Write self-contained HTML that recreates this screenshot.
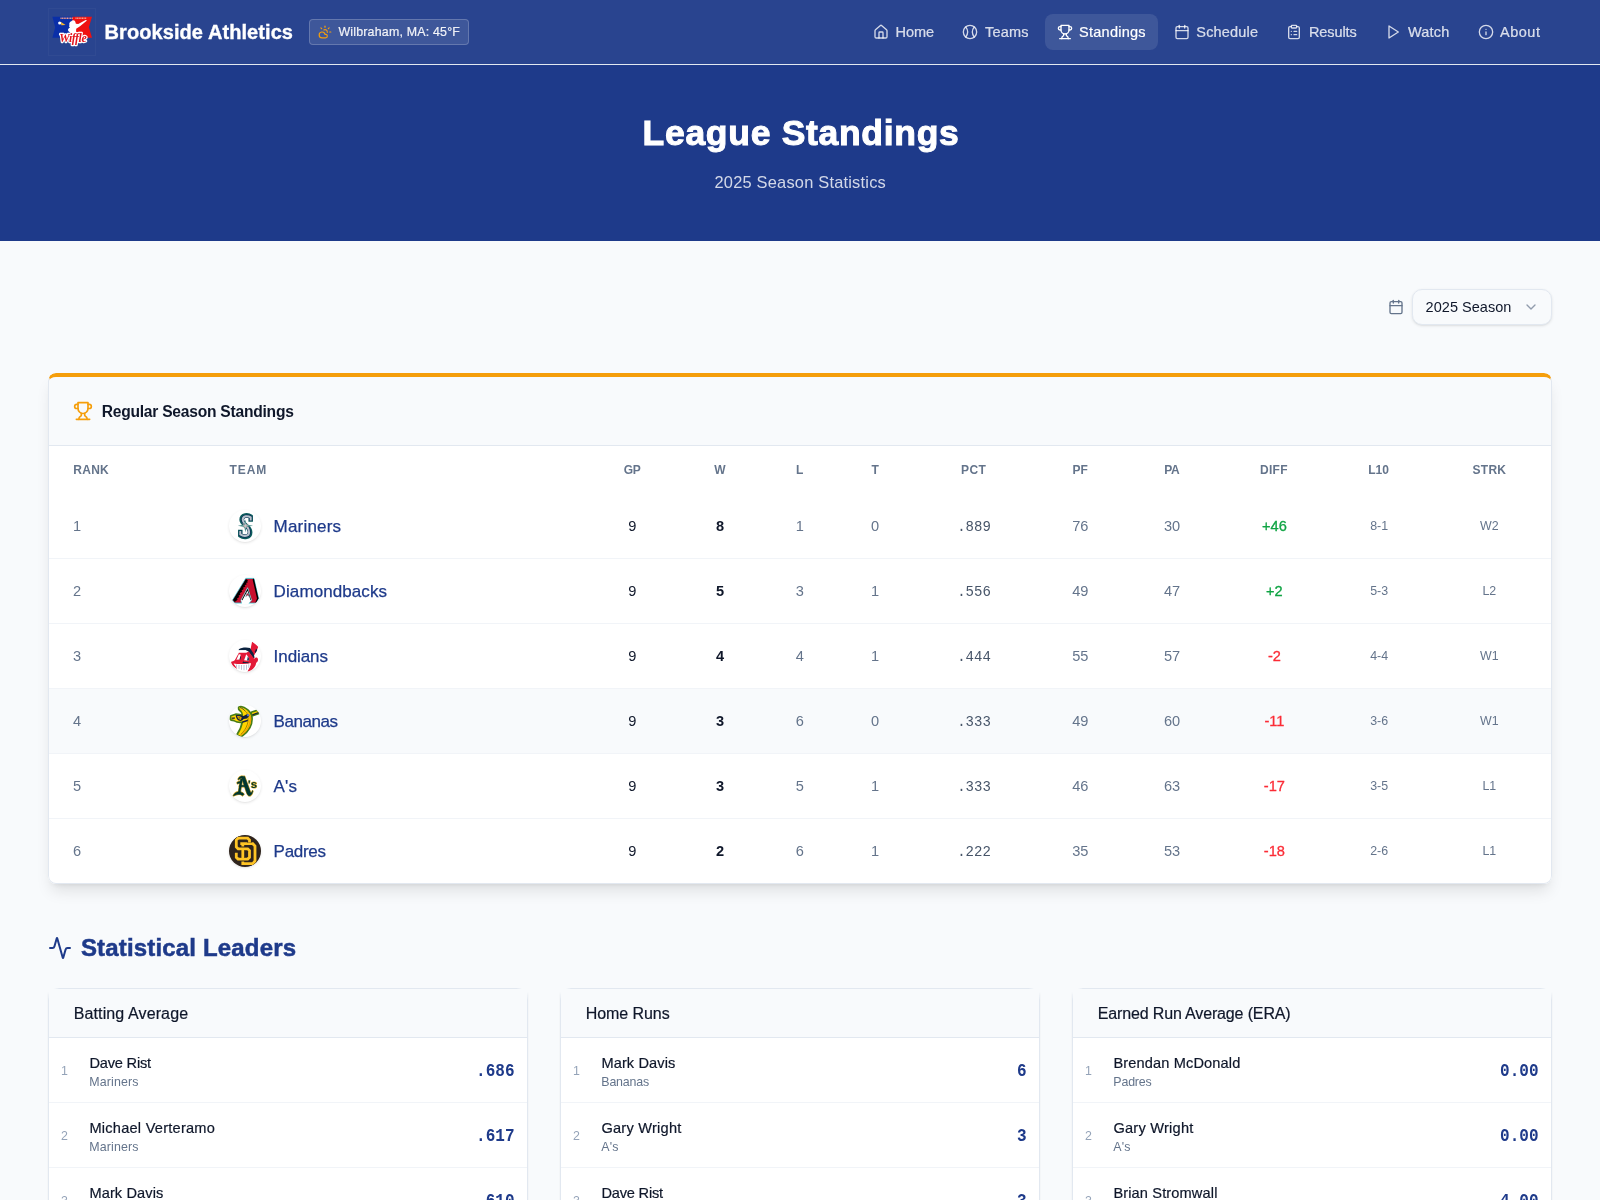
<!DOCTYPE html>
<html lang="en">
<head>
<meta charset="utf-8">
<title>League Standings - Brookside Athletics</title>
<style>
*{box-sizing:border-box;margin:0;padding:0}
html,body{width:1600px;height:1200px;overflow:hidden}
body{background:#f8fafc;font-family:"Liberation Sans",sans-serif;color:#0f172a;position:relative}
#root{position:absolute;left:0;top:0;width:1600px;height:1200px;will-change:transform}
svg{display:block}
.ico{fill:none;stroke:currentColor;stroke-width:2;stroke-linecap:round;stroke-linejoin:round}
/* NAV */
#nav{position:absolute;left:0;top:0;width:1600px;height:65px;background:#29448f;border-bottom:1px solid #e2e8f0}
#logo{position:absolute;left:48px;top:8px;width:48px;height:48px;border:1px solid rgba(255,255,255,.035)}
#brand{position:absolute;top:19px;font-size:20px;font-weight:700;color:#fff;line-height:26px;white-space:nowrap;-webkit-text-stroke:.35px #fff}
#wx{position:absolute;left:309px;top:19px;width:160px;height:26px;border-radius:4px;background:rgba(255,255,255,.1);border:1px solid rgba(255,255,255,.2);color:rgba(255,255,255,.9);font-size:12.4px;line-height:24px;white-space:nowrap}
#wx svg{position:absolute;left:8px;top:5px;color:#f59e0b}
#wx span{position:absolute;top:0;margin-left:-1px;-webkit-text-stroke:.2px currentColor}
.ni{position:absolute;top:14px;height:36px;border-radius:8px;color:rgba(255,255,255,.8);font-size:14.5px;line-height:36px;white-space:nowrap}
.ni svg{position:absolute;left:12px;top:10px}
.ni span{position:absolute;top:0;-webkit-text-stroke:.2px currentColor}
.ni.on{background:rgba(255,255,255,.1);color:#fff}
/* HERO */
#hero{position:absolute;left:0;top:65px;width:1600px;height:176px;background:#1e3a8a;color:#fff;text-align:center}
#hero h1{position:absolute;top:46px;font-size:35.5px;line-height:44px;font-weight:700;white-space:nowrap;text-align:left;-webkit-text-stroke:1px #fff}
#hero p{position:absolute;top:105px;font-size:16.4px;line-height:24px;color:rgba(255,255,255,.8);white-space:nowrap;text-align:left}
/* SELECT */
#selcal{position:absolute;left:1388px;top:299px;color:#64748b}
#sel{position:absolute;left:1412px;top:289px;width:140px;height:36px;border:1px solid #e2e8f0;border-radius:10px;background:#f8fafc;box-shadow:0 1px 3px rgba(0,0,0,.1),0 1px 2px -1px rgba(0,0,0,.1);font-size:14.5px;line-height:34px;color:#0f172a}
#sel span{position:absolute;top:0;white-space:nowrap;margin-left:-1px}
#sel svg{position:absolute;left:110px;top:9px;color:#64748b;opacity:.7}
/* CARD */
#card{position:absolute;left:48px;top:373px;width:1504px;height:511px;border-radius:8px;background:#fff;box-shadow:0 10px 15px -3px rgba(0,0,0,.1),0 4px 6px -4px rgba(0,0,0,.1);overflow:hidden}
#cbord{position:absolute;left:0;top:0;width:1504px;height:511px;border:1px solid #e2e8f0;border-top:4px solid #f59e0b;border-radius:8px;pointer-events:none}
#chead{position:absolute;left:0;top:0;width:1504px;height:73px;background:#f8fafc;border-bottom:1px solid #e2e8f0}
#chead svg{position:absolute;left:25px;top:28px;color:#f59e0b}
#chead span{position:absolute;top:27px;font-size:15.6px;font-weight:700;line-height:24px;white-space:nowrap;color:#0f172a}
.th{position:absolute;top:88.500px;font-size:12px;line-height:16px;font-weight:700;color:#64748b;white-space:nowrap}
.c{width:80px;text-align:center}
.tr{position:absolute;left:1px;width:1502px;height:65px;border-bottom:1px solid #f1f4f8}
.tr.hov{background:#f8fafc}
.tr>*{position:absolute}
.td{top:22px;font-size:14.6px;line-height:20px;white-space:nowrap;color:#64748b}
.tlogo{top:16px;width:32px;height:32px;border-radius:50%;background:#fff;box-shadow:0 1px 3px rgba(0,0,0,.1),0 1px 2px -1px rgba(0,0,0,.1);overflow:hidden}
.tname{top:21px;font-size:17px;line-height:24px;color:#1e3a8a;white-space:nowrap;-webkit-text-stroke:.25px #1e3a8a}
.gp{color:#0f172a}
.w{color:#0f172a;font-weight:700}
.pct{font-family:"Liberation Mono",monospace;font-size:14px;color:#475569;margin-top:1px}
.pos{color:#10a444;-webkit-text-stroke:.3px #10a444}
.neg{color:#fb2c36;-webkit-text-stroke:.3px #fb2c36}
.s{font-size:12.4px}
/* H2 */
#h2{position:absolute;left:48px;top:932px;height:32px;color:#1e3a8a}
#h2 svg{position:absolute;left:0;top:4px}
#h2 span{position:absolute;top:0;font-size:24px;font-weight:700;line-height:32px;white-space:nowrap;-webkit-text-stroke:.5px #1e3a8a}
/* LEADERS */
.lcard{position:absolute;top:988px;width:480px;height:260px}
.ltop{position:absolute;left:6px;top:0;width:468px;height:1px;background:linear-gradient(to right,rgba(226,232,240,0),#e2e8f0 5px,#e2e8f0 463px,rgba(226,232,240,0))}
.lbody{position:absolute;left:0;top:4px;width:480px;height:256px;padding:0 1px;background:linear-gradient(to bottom,rgba(226,232,240,0),#e2e8f0 8px) left top/1px 100% no-repeat,linear-gradient(to bottom,rgba(226,232,240,0),#e2e8f0 8px) right top/1px 100% no-repeat;box-shadow:0 1px 2px rgba(0,0,0,.05)}
.lin{position:absolute;left:1px;top:0;width:478px;height:256px;background:#fff}
.lhead{position:absolute;left:0;top:-3px;width:478px;height:49px;background:#f8fafc;border-bottom:1px solid #e2e8f0;font-size:16px;line-height:20px;color:#0f172a;white-space:nowrap}
.lhead span{position:absolute;top:15px;-webkit-text-stroke:.2px #0f172a;margin-left:-1px}
.lrow{position:absolute;left:0;width:478px;height:65px;border-bottom:1px solid #f1f4f8}
.lrow>*{position:absolute;white-space:nowrap}
.lrk{left:12px;top:25px;font-size:12.4px;line-height:16px;color:#94a3b8}
.lname{top:15px;margin-left:-1px;-webkit-text-stroke:.2px #0f172a;font-size:14.6px;line-height:20px;color:#0f172a}
.lteam{top:36px;margin-left:-1px;font-size:12.4px;line-height:16px;color:#64748b}
.lval{right:12.500px;top:23.500px;transform:scaleY(1.1);transform-origin:50% 60%;font-family:"Liberation Mono",monospace;font-weight:700;font-size:16px;line-height:20px;color:#1e3a8a}

</style>
</head>
<body>
<div id="root">
<div id="nav">
  <div id="logo"><svg width="46" height="46" viewBox="1 1 46 46"><polygon points="4.400,8.800 27,8.800 24,29.800 4.400,29.800 7.200,19.300" fill="#0a2fa8"/><polygon points="24.500,8.800 44,8.800 40.900,19.300 44,29.800 23,29.800" fill="#ee1111"/><path d="M23.300,13.200c1.100,-1.200 3.200,-1.100 3.900,.3l.7,2.200 2.300,.3 7.500,-4c.7,-.4 1.300,.4 .7,.9l-6.400,5.400 -3.800,2.400 -.5,9h-4.600l.5,-5.500c-1.600,.2 -3.100,-.5 -3.500,-1.800 -.4,-1.400 .7,-2.400 1.900,-2.700 -.9,-.7 -1.200,-1.800 -.5,-2.700 -.9,-1.300 .4,-3.300 1.800,-3.800z" fill="#fff"/><path d="M12.500,10.300h12.500M27.500,10.300h11" stroke="#f4a08c" stroke-width="1.400" stroke-dasharray="1.100 .5" fill="none"/><circle cx="11.700" cy="15" r="1.600" fill="#fff"/><path d="M13,13.900l4.600,3.200 -4.300,.2z" fill="#f5b82e"/><text x="24.800" y="33.800" text-anchor="middle" font-family="Liberation Serif" font-style="italic" font-weight="700" font-size="11.800" letter-spacing="-.4" fill="#e3141d" stroke="#fff" stroke-width="2.300" stroke-linejoin="round" paint-order="stroke">Wiffle</text></svg>
</div>
  <div id="brand" style="left:104.60px;letter-spacing:0.072px">Brookside Athletics</div>
  <div id="wx"><svg class="ico" width="14" height="14" viewBox="0 0 24 24" ><path d="M12 2v2"/><path d="m4.930 4.930 1.410 1.410"/><path d="M20 12h2"/><path d="m19.070 4.930-1.410 1.410"/><path d="M15.947 12.650a4 4 0 0 0-5.925-4.128"/><path d="M13 22H7a5 5 0 1 1 4.900-6H13a3 3 0 0 1 0 6Z"/></svg><span style="left:29.40px;letter-spacing:0.200px">Wilbraham, MA: 45°F</span></div>
  <div class="ni" style="left:861px;width:85px"><svg class="ico" width="16" height="16" viewBox="0 0 24 24" ><path d="M15 21v-8a1 1 0 0 0-1-1h-4a1 1 0 0 0-1 1v8"/><path d="M3 10a2 2 0 0 1 .709-1.528l7-5.999a2 2 0 0 1 2.582 0l7 5.999A2 2 0 0 1 21 10v9a2 2 0 0 1-2 2H5a2 2 0 0 1-2-2z"/></svg><span style="left:34.60px;letter-spacing:-0.100px">Home</span></div><div class="ni" style="left:950px;width:91px"><svg class="ico" width="16" height="16" viewBox="0 0 24 24" ><circle cx="12" cy="12" r="10"/><path d="M5.600 4.400Q11.400 12 5.600 19.600"/><path d="M18.400 4.400Q12.600 12 18.400 19.600"/></svg><span style="left:35.00px;letter-spacing:0.225px">Teams</span></div><div class="ni on" style="left:1045px;width:113px"><svg class="ico" width="16" height="16" viewBox="0 0 24 24" ><path d="M6 9H4.5a2.5 2.5 0 0 1 0-5H6"/><path d="M18 9h1.500a2.5 2.5 0 0 0 0-5H18"/><path d="M4 22h16"/><path d="M10 14.66V17c0 .55-.47.98-.97 1.210C7.850 18.750 7 20.240 7 22"/><path d="M14 14.660V17c0 .55.47.98.97 1.210C16.150 18.750 17 20.240 17 22"/><path d="M18 2H6v7a6 6 0 0 0 12 0V2Z"/></svg><span style="left:34.00px;letter-spacing:0.262px">Standings</span></div><div class="ni" style="left:1162px;width:108px"><svg class="ico" width="16" height="16" viewBox="0 0 24 24" ><path d="M8 2v4"/><path d="M16 2v4"/><rect width="18" height="18" x="3" y="4" rx="2"/><path d="M3 10h18"/></svg><span style="left:34.30px;letter-spacing:0.171px">Schedule</span></div><div class="ni" style="left:1274px;width:95px"><svg class="ico" width="16" height="16" viewBox="0 0 24 24" ><rect width="8" height="4" x="8" y="2" rx="1" ry="1"/><path d="M16 4h2a2 2 0 0 1 2 2v14a2 2 0 0 1-2 2H6a2 2 0 0 1-2-2V6a2 2 0 0 1 2-2h2"/><path d="M12 11h4"/><path d="M12 16h4"/><path d="M8 11h.01"/><path d="M8 16h.01"/></svg><span style="left:35.00px;letter-spacing:-0.100px">Results</span></div><div class="ni" style="left:1373px;width:88px"><svg class="ico" width="16" height="16" viewBox="0 0 24 24" ><polygon points="6 3 20 12 6 21 6 3"/></svg><span style="left:35.00px;letter-spacing:0.175px">Watch</span></div><div class="ni" style="left:1466px;width:86px"><svg class="ico" width="16" height="16" viewBox="0 0 24 24" ><circle cx="12" cy="12" r="10"/><path d="M12 16v-4"/><path d="M12 8h.01"/></svg><span style="left:34.00px;letter-spacing:0.525px">About</span></div>
</div>
<div id="hero"><h1 style="left:642.60px;letter-spacing:0.700px">League Standings</h1><p style="left:714.50px;letter-spacing:0.214px">2025 Season Statistics</p></div>
<div id="selcal"><svg class="ico" width="16" height="16" viewBox="0 0 24 24" ><path d="M8 2v4"/><path d="M16 2v4"/><rect width="18" height="18" x="3" y="4" rx="2"/><path d="M3 10h18"/></svg></div>
<div id="sel"><span style="left:13.60px;letter-spacing:0.030px">2025 Season</span><svg class="ico" width="16" height="16" viewBox="0 0 24 24" ><path d="m6 9 6 6 6-6"/></svg></div>
<div id="card">
  <div id="chead"><svg class="ico" width="20" height="20" viewBox="0 0 24 24" ><path d="M6 9H4.5a2.5 2.5 0 0 1 0-5H6"/><path d="M18 9h1.500a2.5 2.5 0 0 0 0-5H18"/><path d="M4 22h16"/><path d="M10 14.66V17c0 .55-.47.98-.97 1.210C7.850 18.750 7 20.240 7 22"/><path d="M14 14.660V17c0 .55.47.98.97 1.210C16.150 18.750 17 20.240 17 22"/><path d="M18 2H6v7a6 6 0 0 0 12 0V2Z"/></svg><span style="left:53.70px;letter-spacing:-0.235px">Regular Season Standings</span></div>
  <div class="th" style="left:25.30px;letter-spacing:0.267px">RANK</div><div class="th" style="left:181.50px;letter-spacing:0.933px">TEAM</div><div class="th" style="left:575.80px;letter-spacing:-0.300px">GP</div><div class="th" style="left:666.25px;letter-spacing:-0.300px">W</div><div class="th" style="left:748.10px;letter-spacing:-0.700px">L</div><div class="th" style="left:823.50px;letter-spacing:-0.300px">T</div><div class="th" style="left:912.90px;letter-spacing:0.500px">PCT</div><div class="th" style="left:1024.45px;letter-spacing:0.000px">PF</div><div class="th" style="left:1116.20px;letter-spacing:-0.200px">PA</div><div class="th" style="left:1212.00px;letter-spacing:0.300px">DIFF</div><div class="th" style="left:1320.20px;letter-spacing:0.050px">L10</div><div class="th" style="left:1424.55px;letter-spacing:0.267px">STRK</div>
  <div class="tr" style="top:121px"><div class="td rk" style="left:24px">1</div><div class="tlogo" style="left:180px"><svg width="32" height="32" viewBox="0 0 32 32"><g fill="none" stroke-linecap="butt" stroke-linejoin="miter"><path d="M21.700,11.800V6.600C19.200,4.600 12.600,4.200 12.600,9.800C12.600,14.700 21.200,16 21.200,22.200C21.200,27.600 14.800,28 11.300,25.400V19.800" stroke="#0c5c5c" stroke-width="4.500"/><path d="M21.700,10.800V7.200C19.200,5.600 13.500,5.200 13.500,9.800C13.500,14 20.300,15.800 20.300,22.200C20.300,26.800 14.800,27 11.300,24.600V20.800" stroke="#0c2c56" stroke-width="3.100"/><path d="M21.700,10.600V7.400C19.200,5.800 13.700,5.400 13.700,9.800C13.700,13.800 20.100,15.800 20.100,22.200C20.100,26.600 14.800,26.800 11.300,24.400V21" stroke="#b8c4cc" stroke-width="2"/></g><path d="M16.400,9.500l1.100,5 6.500,1.300 -6.500,1.300 -1.100,5.400 -1.100,-5.400 -6.500,-1.300 6.500,-1.300z" fill="#4f8f8b"/><path d="M16.400,12.800l.6,2.400 2.600,.6 -2.600,.6 -.6,2.400 -.6,-2.400 -2.600,-.6 2.600,-.6z" fill="#c4ced4"/><path d="M13.600,13.600l5.600,4.400M19.200,13.600l-5.600,4.400" stroke="#e4b4b4" stroke-width=".6"/></svg>
</div><div class="tname" style="left:224.60px;letter-spacing:0.186px">Mariners</div><div class="td c gp" style="left:543.3px">9</div><div class="td c w" style="left:631.0px">8</div><div class="td c m" style="left:710.7px">1</div><div class="td c m" style="left:786.0px">0</div><div class="td c pct" style="left:885.0px">.889</div><div class="td c m" style="left:991.3px">76</div><div class="td c m" style="left:1083.0px">30</div><div class="td c pos" style="left:1185.4px">+46</div><div class="td c s" style="left:1290.2px">8-1</div><div class="td c s" style="left:1400.3px">W2</div></div><div class="tr" style="top:186px"><div class="td rk" style="left:24px">2</div><div class="tlogo" style="left:180px"><svg width="32" height="32" viewBox="0 0 32 32"><path d="M16.800,3.400H24.900L29.600,23.500 27.100,28H19.600L21.900,25 18.600,13.300 13.500,25 12.900,28H5.600L3.500,25.200z" fill="#c8102e" stroke="#3ec1cd" stroke-width=".9" stroke-linejoin="round"/><path d="M24.300,4.200L28.800,23.400 26.800,27.300H20.600L22.800,25 26,25 21,4.200z" fill="#c8102e"/><path d="M24.900,3.600L29.500,23.500 27.100,27.800 26.400,27.300 28,23.600 23.600,4.400z" fill="#000"/><path d="M16.900,3.900L19,5.300 18,6.400 19.400,7 17,8 17.800,9.300 15.600,10.200 16.400,11.500 14,12.800 14.700,14 12.500,15.400 13.300,16.500 10.800,18.200 11.500,19.400 9.400,20.800 10.300,22 8,23.600 8.500,24.700 5.800,27 4,25.100z" fill="#000"/><path d="M11.800,25.300L18.600,12.500 22.700,25.300 19.600,28.800H12.900z" fill="#fff" stroke="#3ec1cd" stroke-width=".5"/><path d="M12.700,28.900H19.700" stroke="#fff" stroke-width="1.600"/><path d="M18.600,13.400L22.100,25 21.500,25.200 18.500,15.800 13.400,25.300 12.600,25.100z" fill="#000"/><path d="M17.800,18.300l1.700,.1 .9,3.400 -1.700,-1.500 -2.100,1.500z" fill="#c8102e" stroke="#3ec1cd" stroke-width=".4"/></svg>
</div><div class="tname" style="left:224.60px;letter-spacing:0.091px">Diamondbacks</div><div class="td c gp" style="left:543.3px">9</div><div class="td c w" style="left:631.0px">5</div><div class="td c m" style="left:710.7px">3</div><div class="td c m" style="left:786.0px">1</div><div class="td c pct" style="left:885.0px">.556</div><div class="td c m" style="left:991.3px">49</div><div class="td c m" style="left:1083.0px">47</div><div class="td c pos" style="left:1185.4px">+2</div><div class="td c s" style="left:1290.2px">5-3</div><div class="td c s" style="left:1400.3px">L2</div></div><div class="tr" style="top:251px"><div class="td rk" style="left:24px">3</div><div class="tlogo" style="left:180px"><svg width="32" height="32" viewBox="0 0 32 32"><path d="M23.100,1.600L29.400,6.600 27.800,10.500 24.600,16.400 21.500,9.500z" fill="#e31937"/><path d="M27.300,8.500l.9,1.500 -1.600,3 -1,-1.200z" fill="#0c2340"/><path d="M9.800,9.200c2.200,-1.800 8,-2.300 11.200,-1.200l3.600,5.500 1,4.200 -2.500,.8 -5.800,-8.200H9.800z" fill="#0c2340"/><path d="M10.300,10.300h7l-1,2.800h-6.200z" fill="#fff"/><path d="M18.800,10.800l6.200,8.600 -1.300,.6 -6.200,-8.200z" fill="#fff"/><path d="M9.900,12.800h7.300l2.500,-1.300 5.500,7.300c1.400,-2 3.500,-1.800 3.800,.2 .3,1.800 -.6,3.300 -1.800,3.700 -.3,3.600 -3.300,7.300 -8.700,9.100l3.100,-7.600H5.300l2.900,4.700C5,27.300 2.600,24.700 2,21.900c1.300,-.3 2.800,-.9 3.900,-1.900z" fill="#e31937"/><path d="M9.800,14.200l1.900,.2 -1,5 -3.300,.4z" fill="#fff"/><path d="M11.200,16.500l.8,.1 -.5,2.800 -1,.1z" fill="#0c2340"/><path d="M17.300,14.200l2.300,3.300 .3,3.200 -4.800,-.4z" fill="#fff"/><path d="M18.800,16.500l1,1.400 .1,2.700 -1.800,-.2z" fill="#0c2340"/><path d="M4.600,23.400c5,.9 12,.7 17.300,-.4 -.3,3.700 -1.800,6.500 -4.400,7.800 -4.300,.5 -9.700,-2.400 -12.900,-7.400z" fill="#fff"/><path d="M7.500,24.500v3M10,24.800v4M12.500,25v4.800M15,25v5.200M17.500,24.800v5M19.800,24.300v3.600" stroke="#7b89b0" stroke-width=".5"/><path d="M13.800,22.300l.4,-1.400 .5,1.100 5,.3 -.2,.9 -6,-.2z" fill="#0c2340"/></svg>
</div><div class="tname" style="left:224.60px;letter-spacing:-0.067px">Indians</div><div class="td c gp" style="left:543.3px">9</div><div class="td c w" style="left:631.0px">4</div><div class="td c m" style="left:710.7px">4</div><div class="td c m" style="left:786.0px">1</div><div class="td c pct" style="left:885.0px">.444</div><div class="td c m" style="left:991.3px">55</div><div class="td c m" style="left:1083.0px">57</div><div class="td c neg" style="left:1185.4px">-2</div><div class="td c s" style="left:1290.2px">4-4</div><div class="td c s" style="left:1400.3px">W1</div></div><div class="tr hov" style="top:316px"><div class="td rk" style="left:24px">4</div><div class="tlogo" style="left:180px"><svg width="32" height="32" viewBox="0 0 32 32"><g stroke="#477d17" stroke-width="3.400" stroke-linejoin="round" fill="#477d17"><path d="M10.500,2c6,1 10.800,4.800 11.600,10.300 .8,6.800 -3,14 -10.100,18.500l-3,-1.300c3,-4.500 4.500,-8.800 5.300,-13.300 -2.800,.8 -6.600,.2 -9,-1.300l-3,-.6v-2.800l4.500,-1.500c2.500,0 5,.5 7,1.800 .8,-3 -.6,-6 -3.300,-7.800z"/><path d="M23,7.800l6,-1.800 .7,1.600 -6.300,2.200z"/></g><path d="M10.500,2c6,1 10.800,4.800 11.600,10.300 .8,6.800 -3,14 -10.100,18.500l-3,-1.300c3,-4.500 4.500,-8.800 5.300,-13.300 -2.800,.8 -6.600,.2 -9,-1.300l-3,-.6v-2.800l4.500,-1.500c2.500,0 5,.5 7,1.800 .8,-3 -.6,-6 -3.300,-7.800z" fill="#ffd500"/><path d="M23,7.800l6,-1.800 .7,1.600 -6.300,2.200z" fill="#ffd500"/><path d="M17.500,5c3,3.300 4,8.500 2.300,14 -1.500,4.800 -4.800,9 -9.300,11.300l1.500,.5c7,-4.300 10.900,-11.700 10.100,-18.500 -.4,-3 -2,-5.500 -4.600,-7.300z" fill="#f0a400"/><path d="M17.500,7c2,3.500 2.300,8 .8,12.500 -1.200,3.800 -3.500,7.200 -6.500,9.800" stroke="#8a6a00" stroke-width=".7" fill="none"/><path d="M6.500,10.300c2.500,-.8 5.800,-.4 8,.8l3.800,-2.100 2.200,1.400 -2.500,3.100 -3.400,.5c-.8,1.400 -2.600,2.200 -4.300,1.800 -1.600,-.4 -3,-1.800 -3.800,-5.500z" fill="#14213d"/><path d="M8,11c1.700,-.2 3.500,.3 4.800,1.300l-1,2.600c-1.800,-.2 -3.300,-1.600 -3.800,-3.900z" fill="#e0a000"/><path d="M9.500,12l1.500,.5 -.5,1.600z" fill="#477d17"/><circle cx="19" cy="10.200" r="1.100" fill="#5d79d0"/><path d="M23.200,9.300l6.200,-2.300 .4,1 -6.200,2.500z" fill="#14213d"/><path d="M13.500,16.300l5.500,-1.800 -.3,1.700 -5.600,1.900z" fill="#14213d"/><path d="M2.500,12.500l3.500,-.3 -.3,1.800 -3,.2z" fill="#14213d" opacity=".8"/><path d="M11,2.500c2.200,.8 4.200,2.200 5.500,4" stroke="#14213d" stroke-width=".7" fill="none"/></svg>
</div><div class="tname" style="left:224.60px;letter-spacing:-0.450px">Bananas</div><div class="td c gp" style="left:543.3px">9</div><div class="td c w" style="left:631.0px">3</div><div class="td c m" style="left:710.7px">6</div><div class="td c m" style="left:786.0px">0</div><div class="td c pct" style="left:885.0px">.333</div><div class="td c m" style="left:991.3px">49</div><div class="td c m" style="left:1083.0px">60</div><div class="td c neg" style="left:1185.4px">-11</div><div class="td c s" style="left:1290.2px">3-6</div><div class="td c s" style="left:1400.3px">W1</div></div><div class="tr" style="top:381px"><div class="td rk" style="left:24px">5</div><div class="tlogo" style="left:180px"><svg width="32" height="32" viewBox="0 0 32 32"><g fill="#efb21e" stroke="#efb21e" stroke-width="1.300" stroke-linejoin="round" opacity=".9"><path d="M12.300,6.400L15.600,6.200 21.500,22.300C22,23.300 22.800,22.500 23.400,20.600L24,21C23.300,24.500 21.500,26.500 19.800,25.800 18.600,25.300 18,23.800 17.300,21.800L13.300,9.800z"/><path d="M13.500,9.200L11.300,22.500 9.300,22.300 11.600,8.800z"/><path d="M10.500,15.300H17v1.500H10.300z"/><path d="M4.200,25.600C5.600,22.600 8.600,21.300 11.500,21.900 13.300,22.300 14.500,23.200 15.100,24.300L13.500,25.800C12.300,24.200 8.800,23.600 4.600,26z"/><path d="M9,9.300C9.700,7.300 11.500,6 13.500,6.300L13.800,8.400C12.300,7.900 10.600,8.600 9.600,9.800z"/><path d="M8,12.600C9.200,11.500 10.900,11.300 12.400,11.900L12.100,13.700C10.900,13.100 9.500,13.200 8.400,13.900z"/></g><g fill="#003831" stroke="#003831" stroke-width=".4" stroke-linejoin="round"><path d="M12.300,6.400L15.600,6.200 21.500,22.300C22,23.300 22.800,22.500 23.400,20.600L24,21C23.300,24.500 21.500,26.500 19.800,25.800 18.600,25.300 18,23.800 17.300,21.800L13.300,9.800z"/><path d="M13.500,9.200L11.300,22.500 9.300,22.300 11.600,8.800z"/><path d="M10.500,15.300H17v1.500H10.300z"/><path d="M4.200,25.600C5.600,22.600 8.600,21.300 11.500,21.900 13.300,22.300 14.500,23.200 15.100,24.300L13.500,25.800C12.300,24.200 8.800,23.600 4.600,26z"/><path d="M9,9.300C9.700,7.300 11.500,6 13.500,6.300L13.800,8.400C12.300,7.900 10.600,8.600 9.600,9.800z"/><path d="M8,12.600C9.200,11.500 10.900,11.300 12.400,11.900L12.100,13.700C10.900,13.100 9.500,13.200 8.400,13.900z"/></g><g font-family="Liberation Sans" font-weight="700" fill="#003831" stroke="#efb21e" stroke-width=".9" paint-order="stroke"><text x="24.900" y="17.600" text-anchor="middle" font-size="11.500">s</text><path d="M19.500,10.500h1.700l-.6,3.100h-.9z" stroke-width=".6"/></g></svg>
</div><div class="tname" style="left:224.60px;letter-spacing:0.150px">A's</div><div class="td c gp" style="left:543.3px">9</div><div class="td c w" style="left:631.0px">3</div><div class="td c m" style="left:710.7px">5</div><div class="td c m" style="left:786.0px">1</div><div class="td c pct" style="left:885.0px">.333</div><div class="td c m" style="left:991.3px">46</div><div class="td c m" style="left:1083.0px">63</div><div class="td c neg" style="left:1185.4px">-17</div><div class="td c s" style="left:1290.2px">3-5</div><div class="td c s" style="left:1400.3px">L1</div></div><div class="tr" style="top:446px"><div class="td rk" style="left:24px">6</div><div class="tlogo" style="left:180px"><svg width="32" height="32" viewBox="0 0 32 32"><rect width="32" height="32" fill="#2f241d"/><g fill="none" stroke-linejoin="miter" stroke-linecap="butt"><path d="M11.300,8.700H23.800L26,11V26L23.800,28.600H13.800M13.800,7.300V30" stroke="#2f241d" stroke-width="4.600"/><path d="M11.300,8.700H23.800L26,11V26L23.800,28.600H12.400M13.800,8.700V28.600" stroke="#ffc425" stroke-width="2.800"/><path d="M20.500,7.600V5L18.700,3.200H9.100L7.300,5V12L9.100,13.800H18.700L20.500,15.600V22.300L18.700,24.100H9.100L7.300,22.300V17.800" stroke="#2f241d" stroke-width="4.600"/><path d="M20.500,7.600V5L18.700,3.200H9.100L7.300,5V12L9.100,13.800H18.700L20.500,15.600V22.300L18.700,24.100H9.100L7.300,22.300V17.800" stroke="#ffc425" stroke-width="2.800"/><path d="M13.800,15.500V22.500" stroke="#2f241d" stroke-width="4.600"/><path d="M13.800,14.800V23.200" stroke="#ffc425" stroke-width="2.800"/></g></svg>
</div><div class="tname" style="left:224.60px;letter-spacing:-0.300px">Padres</div><div class="td c gp" style="left:543.3px">9</div><div class="td c w" style="left:631.0px">2</div><div class="td c m" style="left:710.7px">6</div><div class="td c m" style="left:786.0px">1</div><div class="td c pct" style="left:885.0px">.222</div><div class="td c m" style="left:991.3px">35</div><div class="td c m" style="left:1083.0px">53</div><div class="td c neg" style="left:1185.4px">-18</div><div class="td c s" style="left:1290.2px">2-6</div><div class="td c s" style="left:1400.3px">L1</div></div>
  <div id="cbord"></div>
</div>
<div id="h2"><svg class="ico" width="24" height="24" viewBox="0 0 24 24" ><path d="M22 12h-2.480a2 2 0 0 0-1.930 1.460l-2.350 8.360a.25.25 0 0 1-.48 0L9.240 2.180a.25.25 0 0 0-.48 0l-2.350 8.360A2 2 0 0 1 4.490 12H2"/></svg><span style="left:32.90px;letter-spacing:0.172px">Statistical Leaders</span></div>
<div class="lcard" style="left:48px"><div class="ltop"></div><div class="lbody"><div class="lin"><div class="lhead"><span style="left:25.70px;letter-spacing:0.121px">Batting Average</span></div><div class="lrow" style="top:46px"><div class="lrk">1</div><div class="lname" style="left:41.40px;letter-spacing:-0.194px">Dave Rist</div><div class="lteam" style="left:41.30px;letter-spacing:0.150px">Mariners</div><div class="lval">.686</div></div><div class="lrow" style="top:111px"><div class="lrk">2</div><div class="lname" style="left:41.40px;letter-spacing:0.237px">Michael Verteramo</div><div class="lteam" style="left:41.30px;letter-spacing:0.150px">Mariners</div><div class="lval">.617</div></div><div class="lrow" style="top:176px"><div class="lrk">3</div><div class="lname" style="left:41.40px;letter-spacing:0.111px">Mark Davis</div><div class="lteam" style="left:41.30px;letter-spacing:-0.167px">Bananas</div><div class="lval">.610</div></div></div></div></div><div class="lcard" style="left:560px"><div class="ltop"></div><div class="lbody"><div class="lin"><div class="lhead"><span style="left:25.70px;letter-spacing:-0.062px">Home Runs</span></div><div class="lrow" style="top:46px"><div class="lrk">1</div><div class="lname" style="left:41.40px;letter-spacing:0.111px">Mark Davis</div><div class="lteam" style="left:41.30px;letter-spacing:-0.167px">Bananas</div><div class="lval">6</div></div><div class="lrow" style="top:111px"><div class="lrk">2</div><div class="lname" style="left:41.40px;letter-spacing:0.240px">Gary Wright</div><div class="lteam" style="left:41.30px;letter-spacing:0.100px">A's</div><div class="lval">3</div></div><div class="lrow" style="top:176px"><div class="lrk">3</div><div class="lname" style="left:41.40px;letter-spacing:-0.194px">Dave Rist</div><div class="lteam" style="left:41.30px;letter-spacing:0.150px">Mariners</div><div class="lval">3</div></div></div></div></div><div class="lcard" style="left:1072px"><div class="ltop"></div><div class="lbody"><div class="lin"><div class="lhead"><span style="left:25.70px;letter-spacing:-0.143px">Earned Run Average (ERA)</span></div><div class="lrow" style="top:46px"><div class="lrk">1</div><div class="lname" style="left:41.40px;letter-spacing:0.133px">Brendan McDonald</div><div class="lteam" style="left:41.30px;letter-spacing:-0.160px">Padres</div><div class="lval">0.00</div></div><div class="lrow" style="top:111px"><div class="lrk">2</div><div class="lname" style="left:41.40px;letter-spacing:0.240px">Gary Wright</div><div class="lteam" style="left:41.30px;letter-spacing:0.100px">A's</div><div class="lval">0.00</div></div><div class="lrow" style="top:176px"><div class="lrk">3</div><div class="lname" style="left:41.40px;letter-spacing:0.129px">Brian Stromwall</div><div class="lteam" style="left:41.30px;letter-spacing:0.150px">Mariners</div><div class="lval">4.00</div></div></div></div></div>
</div>
</body>
</html>
